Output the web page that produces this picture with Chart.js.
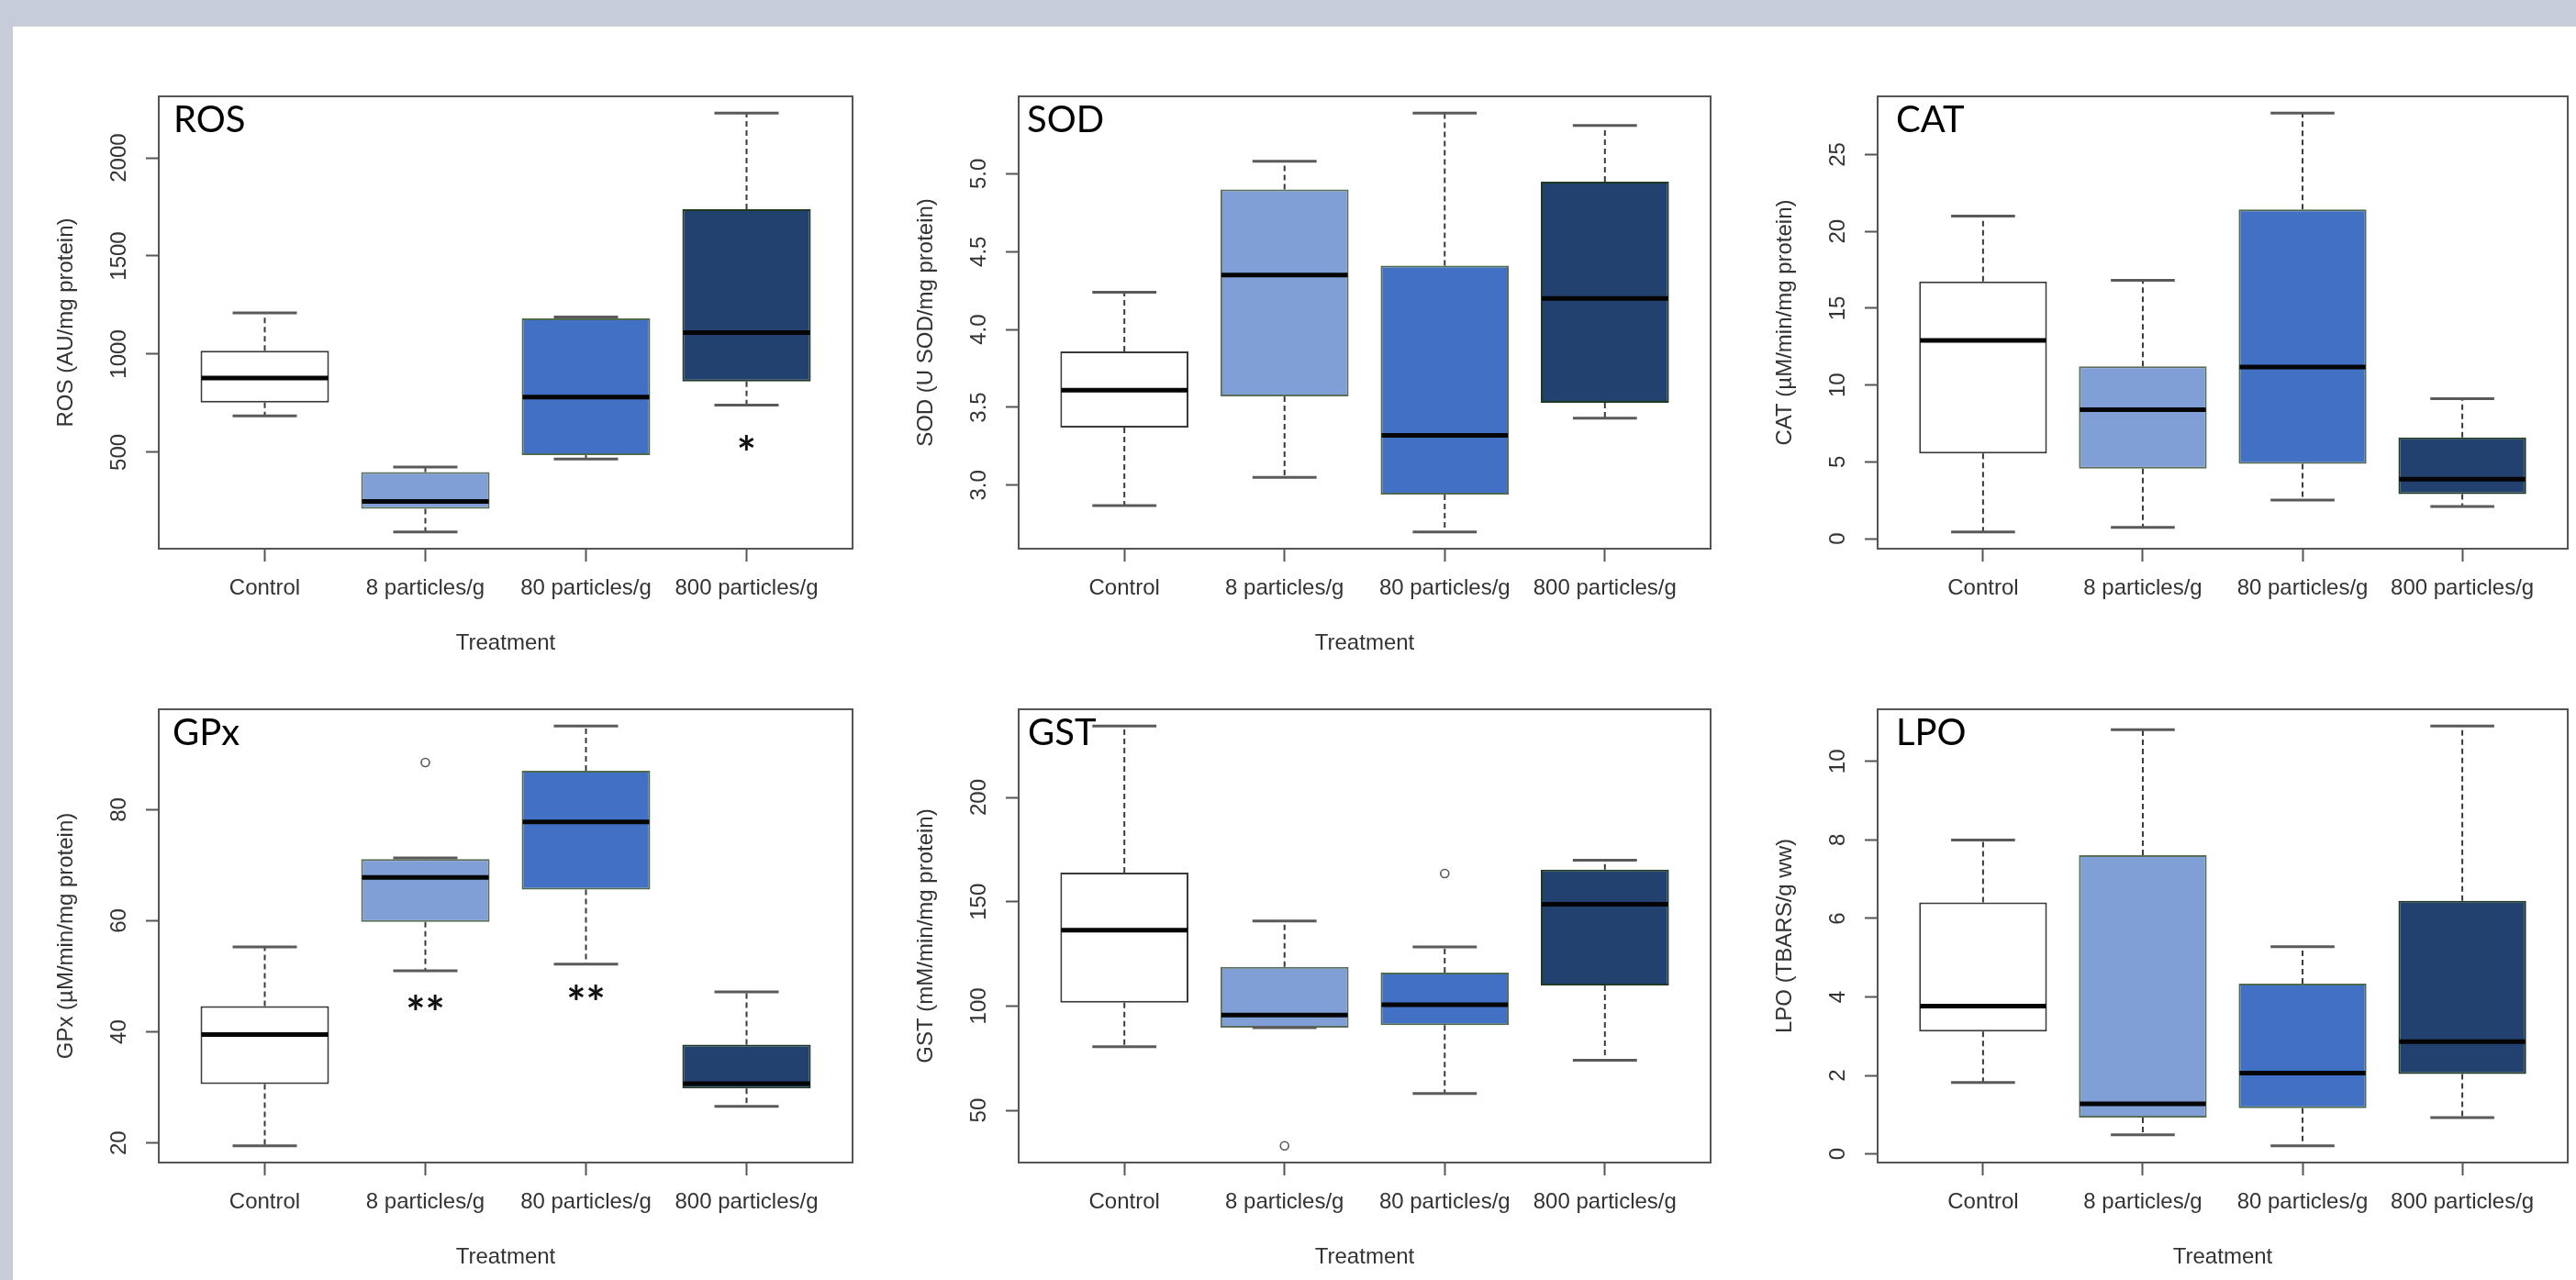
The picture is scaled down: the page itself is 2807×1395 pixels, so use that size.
<!DOCTYPE html>
<html>
<head>
<meta charset="utf-8">
<title>Oxidative stress biomarkers by treatment</title>
<script src="https://cdn.jsdelivr.net/npm/chart.js@4.4.0/dist/chart.umd.min.js"></script>
<style>
  html, body { margin: 0; padding: 0; background: #ffffff; }
  body { width: 2807px; height: 1395px; position: relative; overflow: hidden; }
  .band-top { position: absolute; left: 0; top: 0; width: 2807px; height: 29px; background: #c6ccd8; }
  .band-left { position: absolute; left: 0; top: 0; width: 14px; height: 1395px; background: #c6ccd8; }
  canvas { position: absolute; }
</style>
</head>
<body>
<div class="band-top"></div>
<div class="band-left"></div>
<canvas id="rosChart"></canvas>
<canvas id="sodChart"></canvas>
<canvas id="catChart"></canvas>
<canvas id="gpxChart"></canvas>
<canvas id="gstChart"></canvas>
<canvas id="lpoChart"></canvas>
<script>
const categories = ["Control", "8 particles/g", "80 particles/g", "800 particles/g"];

// each box: [lower whisker, Q1, median, Q3, upper whisker]
const rosBoxes = [[685, 753, 878, 1017, 1210], [94, 212, 249, 399, 425], [466, 485, 781, 1182, 1189], [740, 861, 1109, 1738, 2228]];
const sodBoxes = [[2.87, 3.37, 3.61, 3.86, 4.24], [3.05, 3.57, 4.35, 4.90, 5.08], [2.70, 2.94, 3.32, 4.41, 5.39], [3.43, 3.53, 4.20, 4.95, 5.31]];
const catBoxes = [[0.44, 5.54, 12.9, 16.74, 21.0], [0.74, 4.56, 8.40, 11.22, 16.82], [2.52, 4.88, 11.17, 21.43, 27.7], [2.09, 2.91, 3.87, 6.59, 9.11]];
const gpxBoxes = [[19.5, 30.6, 39.5, 44.65, 55.3], [51.0, 59.8, 67.8, 71.1, 71.3], [52.2, 65.6, 77.8, 87.0, 95.05], [26.6, 29.8, 30.7, 37.7, 47.2]];
const gstBoxes = [[80.5, 101.6, 136.3, 163.9, 234.2], [89.6, 89.6, 95.7, 118.75, 140.8], [58.0, 90.8, 100.6, 116.0, 128.3], [74.0, 109.8, 148.8, 165.4, 169.9]];
const lpoBoxes = [[1.82, 3.12, 3.77, 6.41, 8.0], [0.49, 0.93, 1.28, 7.61, 10.81], [0.21, 1.17, 2.06, 4.34, 5.28], [0.93, 2.04, 2.86, 6.45, 10.90]];

const noOutliers = [[], [], [], []];
const gpxOutliers = [[], [88.5], [], []];
const gstOutliers = [[], [33.0], [163.5], []];

const rosTicks = [500, 1000, 1500, 2000];
const sodTicks = ["3.0", "3.5", "4.0", "4.5", "5.0"];
const catTicks = [0, 5, 10, 15, 20, 25];
const gpxTicks = [20, 40, 60, 80];
const gstTicks = [50, 100, 150, 200];
const lpoTicks = [0, 2, 4, 6, 8, 10];

// significance marks under the boxes
const rosMarks = ["", "", "", "*"];
const rosMarkAt = [null, null, null, 540];
const gpxMarks = ["", "**", "**", ""];
const gpxMarkAt = [null, 45.0, 46.8, null];

const fills = ["#ffffff", "#809fd6", "#4170c4", "#23416f"];
const edges = ["#3a3a3a", "#5a6e5a", "#4f6a4f", "#1f3a24"];
const font = "'Liberation Sans', Arial, sans-serif";
const textGrey = "#333333";
const axisGrey = "#555555";

const panels = [
  { id: "rosChart", name: "ROS", yTitle: "ROS (AU/mg protein)", boxes: rosBoxes, outliers: noOutliers, ticks: rosTicks, marks: rosMarks, markAt: rosMarkAt, xTitle: true,  left: 173,  top: 105, width: 756, height: 493, labelDx: 16 },
  { id: "sodChart", name: "SOD", yTitle: "SOD (U SOD/mg protein)", boxes: sodBoxes, outliers: noOutliers, ticks: sodTicks, marks: null, markAt: null, xTitle: true,  left: 1110, top: 105, width: 754, height: 493, labelDx: 9 },
  { id: "catChart", name: "CAT", yTitle: "CAT (\u00b5M/min/mg protein)", boxes: catBoxes, outliers: noOutliers, ticks: catTicks, marks: null, markAt: null, xTitle: false, left: 2046, top: 105, width: 752, height: 493, labelDx: 20 },
  { id: "gpxChart", name: "GPx", yTitle: "GPx (\u00b5M/min/mg protein)", boxes: gpxBoxes, outliers: gpxOutliers, ticks: gpxTicks, marks: gpxMarks, markAt: gpxMarkAt, xTitle: true, left: 173,  top: 773, width: 756, height: 494, labelDx: 15 },
  { id: "gstChart", name: "GST", yTitle: "GST (mM/min/mg protein)", boxes: gstBoxes, outliers: gstOutliers, ticks: gstTicks, marks: null, markAt: null, xTitle: true, left: 1110, top: 773, width: 754, height: 494, labelDx: 10 },
  { id: "lpoChart", name: "LPO", yTitle: "LPO (TBARS/g ww)", boxes: lpoBoxes, outliers: noOutliers, ticks: lpoTicks, marks: null, markAt: null, xTitle: true, left: 2046, top: 773, width: 752, height: 494, labelDx: 20 }
];

const Y_AXIS_W = 173;
const X_AXIS_H = 118;
const PAD_TOP = 20;
const PAD_RIGHT = 4;
const MARK_SIZE = 50;

function strokeLine(ctx, x1, y1, x2, y2) {
  ctx.beginPath();
  ctx.moveTo(x1, y1);
  ctx.lineTo(x2, y2);
  ctx.stroke();
}

// whiskers, caps, medians, outliers and marks on top of the floating bars
const boxExtras = {
  id: "boxExtras",
  afterDatasetsDraw(chart) {
    const p = chart.options.plugins.boxExtras.panel;
    const ctx = chart.ctx;
    const xs = chart.scales.x, ys = chart.scales.y;
    const bars = chart.getDatasetMeta(0).data;
    ctx.save();
    p.boxes.forEach((b, i) => {
      const cx = xs.getPixelForValue(i + 1);
      const w = bars[i].width;
      const py = b.map(v => ys.getPixelForValue(v));

      ctx.strokeStyle = "#3a3a3a";
      ctx.lineWidth = 2;
      ctx.setLineDash([6, 4]);
      if (py[4] < py[3]) strokeLine(ctx, cx, py[3], cx, py[4]);
      if (py[0] > py[1]) strokeLine(ctx, cx, py[1], cx, py[0]);
      ctx.setLineDash([]);

      ctx.strokeStyle = "#5a5a5a";
      ctx.lineWidth = 3;
      strokeLine(ctx, cx - w / 4, py[4], cx + w / 4, py[4]);
      strokeLine(ctx, cx - w / 4, py[0], cx + w / 4, py[0]);

      ctx.strokeStyle = "#050505";
      ctx.lineWidth = 5;
      strokeLine(ctx, cx - w / 2 + 1, py[2], cx + w / 2 - 1, py[2]);

      ctx.strokeStyle = "#5a5a5a";
      ctx.lineWidth = 1.6;
      p.outliers[i].forEach(v => {
        ctx.beginPath();
        ctx.arc(cx, ys.getPixelForValue(v), 4.5, 0, Math.PI * 2);
        ctx.stroke();
      });

      if (p.marks && p.marks[i]) {
        ctx.fillStyle = "#111111";
        ctx.font = "bold " + MARK_SIZE + "px Lato, 'Open Sans', sans-serif";
        ctx.textAlign = "center";
        ctx.textBaseline = "alphabetic";
        ctx.fillText(p.marks[i], cx, ys.getPixelForValue(p.markAt[i]) + 0.55 * MARK_SIZE);
      }
    });
    ctx.restore();
  },
  afterDraw(chart) {
    const p = chart.options.plugins.boxExtras.panel;
    const ctx = chart.ctx;
    const area = chart.chartArea;
    const ys = chart.scales.y;
    ctx.save();
    ctx.strokeStyle = axisGrey;
    ctx.lineWidth = 2;
    ctx.strokeRect(area.left, area.top, area.right - area.left, area.bottom - area.top);

    // y tick labels, parallel to the axis as in base R
    ctx.fillStyle = textGrey;
    ctx.font = "24px " + font;
    ctx.textAlign = "center";
    ctx.textBaseline = "middle";
    p.ticks.forEach(t => {
      const py = ys.getPixelForValue(Number(t));
      ctx.save();
      ctx.translate(area.left - 43, py);
      ctx.rotate(-Math.PI / 2);
      ctx.fillText(String(t), 0, 0);
      ctx.restore();
    });

    ctx.fillStyle = "#000000";
    ctx.font = "40px Lato, 'Open Sans', sans-serif";
    ctx.textAlign = "left";
    ctx.textBaseline = "alphabetic";
    ctx.fillText(p.name, area.left + p.labelDx, area.top + 39);
    ctx.restore();
  }
};

function makeChart(p) {
  const canvas = document.getElementById(p.id);
  canvas.width = Y_AXIS_W + p.width + PAD_RIGHT;
  canvas.height = PAD_TOP + p.height + X_AXIS_H;
  canvas.style.left = (p.left - Y_AXIS_W) + "px";
  canvas.style.top = (p.top - PAD_TOP) + "px";

  const all = p.boxes.flat().concat(p.outliers.flat());
  const lo = Math.min(...all), hi = Math.max(...all);
  const ext = (hi - lo) * 0.04;

  return new Chart(canvas, {
    type: "bar",
    data: {
      datasets: [{
        data: p.boxes.map((b, i) => ({ x: i + 1, y: [b[1], b[3]] })),
        backgroundColor: fills,
        borderColor: edges,
        borderWidth: 2,
        borderSkipped: false,
        categoryPercentage: 1,
        barPercentage: 0.8
      }]
    },
    options: {
      responsive: false,
      animation: false,
      layout: { padding: { left: 0, top: PAD_TOP, right: PAD_RIGHT, bottom: 0 } },
      plugins: {
        legend: { display: false },
        tooltip: { enabled: false },
        boxExtras: { panel: p }
      },
      scales: {
        x: {
          type: "linear",
          min: 0.34,
          max: 4.66,
          offset: false,
          afterBuildTicks: s => { s.ticks = categories.map((c, i) => ({ value: i + 1 })); },
          afterFit: s => { s.height = X_AXIS_H; },
          border: { display: false },
          grid: { drawOnChartArea: false, offset: false, tickLength: 14, tickWidth: 2, tickColor: axisGrey, color: axisGrey },
          ticks: {
            autoSkip: false, maxRotation: 0, minRotation: 0, padding: 15,
            color: textGrey, font: { family: font, size: 24 },
            callback: v => categories[v - 1]
          },
          title: { display: p.xTitle, text: "Treatment", color: textGrey, font: { family: font, size: 24 }, padding: 0 }
        },
        y: {
          type: "linear",
          min: lo - ext,
          max: hi + ext,
          afterBuildTicks: s => { s.ticks = p.ticks.map(t => ({ value: Number(t) })); },
          afterFit: s => { s.width = Y_AXIS_W; },
          border: { display: false },
          grid: { drawOnChartArea: false, tickLength: 14, tickWidth: 2, tickColor: axisGrey, color: axisGrey },
          ticks: { display: false },
          title: { display: true, text: p.yTitle, color: textGrey, font: { family: font, size: 24 }, padding: { top: 58, bottom: 0 } }
        }
      }
    },
    plugins: [boxExtras]
  });
}

panels.forEach(makeChart);
</script>
</body>
</html>
